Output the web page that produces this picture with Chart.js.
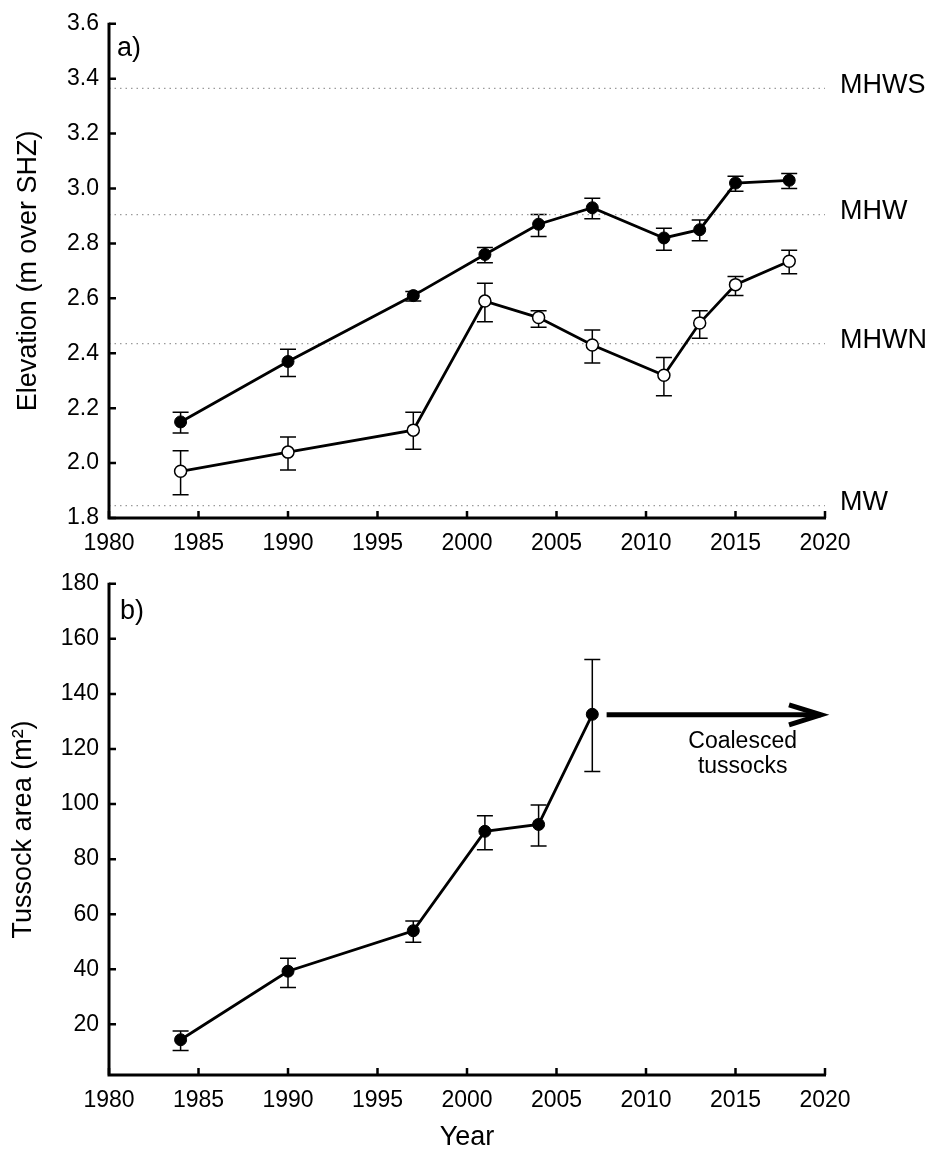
<!DOCTYPE html>
<html><head><meta charset="utf-8">
<script src="https://cdn.jsdelivr.net/npm/chart.js@4.4.1/dist/chart.umd.min.js"></script>
<style>
html,body{margin:0;padding:0;background:#fff;}
#wrap{position:relative;width:933px;height:1151px;overflow:hidden;}
.box{position:absolute;left:0;width:933px;}
</style></head><body>
<div id="wrap">
<div class="box" style="top:0;height:560px"><canvas id="c1"></canvas></div>
<div class="box" style="top:560px;height:591px"><canvas id="c2"></canvas></div>
</div>
<script>
// ---------- data ----------
const years = [1984, 1990, 1997, 2001, 2004, 2007, 2011, 2013, 2015, 2018];
const elevFilled = [2.15, 2.37, 2.61, 2.76, 2.87, 2.93, 2.82, 2.85, 3.02, 3.03];
const elevFilledHi = [2.185, 2.415, 2.625, 2.785, 2.905, 2.965, 2.855, 2.885, 3.045, 3.055];
const elevFilledLo = [2.11, 2.315, 2.59, 2.73, 2.825, 2.89, 2.775, 2.81, 2.99, 3.0];
const elevOpen = [1.97, 2.04, 2.12, 2.59, 2.53, 2.43, 2.32, 2.51, 2.65, 2.735];
const elevOpenHi = [2.045, 2.095, 2.185, 2.655, 2.555, 2.485, 2.385, 2.555, 2.68, 2.775];
const elevOpenLo = [1.885, 1.975, 2.05, 2.515, 2.495, 2.365, 2.245, 2.455, 2.61, 2.69];

const tideLevels = [3.365, 2.905, 2.435, 1.845];
const tideNames = ['MHWS', 'MHW', 'MHWN', 'MW'];

const areaYears = [1984, 1990, 1997, 2001, 2004, 2007];
const areaMean = [14.4, 39.3, 54.0, 90.1, 92.6, 132.6];
const areaHi = [17.6, 44.0, 57.5, 95.8, 99.7, 152.5];
const areaLo = [10.5, 33.4, 49.8, 83.4, 84.8, 111.8];

const arrowYears = [2007.8, 2020];
const arrowLevel = 132.4;
const noteLines = ['Coalesced', 'tussocks'];
const noteYear = 2015.4;
const noteLevels = [122.8, 113.6];

const xTicks = [1980, 1985, 1990, 1995, 2000, 2005, 2010, 2015, 2020];
const elevTicks = [1.8, 2.0, 2.2, 2.4, 2.6, 2.8, 3.0, 3.2, 3.4, 3.6];
const areaTicks = [20, 40, 60, 80, 100, 120, 140, 160, 180];

// ---------- helpers ----------
const FONT = "'Liberation Sans', Arial, sans-serif";
const pts = (xs, ys) => xs.map((x, i) => ({x: x, y: ys[i]}));

function axesPlugin(panelLabel, dx, dy) {
  return {
    id: 'axesDeco' + panelLabel,
    afterDraw(chart) {
      const ctx = chart.ctx, ca = chart.chartArea;
      const xs = chart.scales.x, ys = chart.scales.y;
      ctx.save();
      ctx.strokeStyle = '#000';
      ctx.lineCap = 'butt';
      // axis lines
      ctx.lineWidth = 3;
      ctx.beginPath();
      ctx.moveTo(ca.left, ca.top - 1);
      ctx.lineTo(ca.left, ca.bottom + 1.5);
      ctx.moveTo(ca.left - 1.5, ca.bottom);
      ctx.lineTo(ca.right + 1, ca.bottom);
      ctx.stroke();
      // inward ticks
      ctx.lineWidth = 2.5;
      ctx.beginPath();
      xs.ticks.forEach(t => {
        const px = xs.getPixelForValue(t.value);
        ctx.moveTo(px, ca.bottom);
        ctx.lineTo(px, ca.bottom - 7);
      });
      ys.ticks.forEach(t => {
        const py = ys.getPixelForValue(t.value);
        ctx.moveTo(ca.left, py);
        ctx.lineTo(ca.left + 7, py);
      });
      ctx.stroke();
      // panel label
      ctx.fillStyle = '#000';
      ctx.font = '27px ' + FONT;
      ctx.textAlign = 'left';
      ctx.textBaseline = 'alphabetic';
      ctx.fillText(panelLabel, ca.left + dx, ca.top + dy);
      ctx.restore();
    }
  };
}

function errPlugin(id, sets) {
  return {
    id: id,
    beforeDatasetsDraw(chart) {
      const ctx = chart.ctx, xs = chart.scales.x, ys = chart.scales.y;
      ctx.save();
      ctx.strokeStyle = '#000';
      ctx.lineWidth = 1.5;
      ctx.beginPath();
      sets.forEach(s => {
        s.x.forEach((xv, i) => {
          const px = xs.getPixelForValue(xv);
          const ph = ys.getPixelForValue(s.hi[i]);
          const pl = ys.getPixelForValue(s.lo[i]);
          ctx.moveTo(px, ph); ctx.lineTo(px, pl);
          ctx.moveTo(px - 8, ph); ctx.lineTo(px + 8, ph);
          ctx.moveTo(px - 8, pl); ctx.lineTo(px + 8, pl);
        });
      });
      ctx.stroke();
      ctx.restore();
    }
  };
}

const tideLabelPlugin = {
  id: 'tideLabels',
  afterDraw(chart) {
    const ctx = chart.ctx, ca = chart.chartArea, ys = chart.scales.y;
    ctx.save();
    ctx.fillStyle = '#000';
    ctx.font = '27px ' + FONT;
    ctx.textAlign = 'left';
    ctx.textBaseline = 'middle';
    tideLevels.forEach((lv, i) => {
      ctx.fillText(tideNames[i], ca.right + 15, ys.getPixelForValue(lv) - 3);
    });
    ctx.restore();
  }
};

const arrowPlugin = {
  id: 'arrowNote',
  afterDraw(chart) {
    const ctx = chart.ctx, xs = chart.scales.x, ys = chart.scales.y;
    const x0 = xs.getPixelForValue(arrowYears[0]);
    const x1 = xs.getPixelForValue(arrowYears[1]);
    const y = ys.getPixelForValue(arrowLevel);
    ctx.save();
    ctx.strokeStyle = '#000';
    ctx.lineWidth = 5;
    ctx.lineCap = 'butt';
    ctx.lineJoin = 'miter';
    ctx.beginPath();
    ctx.moveTo(x0, y); ctx.lineTo(x1 - 4, y);
    ctx.stroke();
    ctx.beginPath();
    ctx.moveTo(x1 - 36, y - 10);
    ctx.lineTo(x1 - 4, y);
    ctx.lineTo(x1 - 36, y + 10);
    ctx.stroke();
    ctx.fillStyle = '#000';
    ctx.font = '23px ' + FONT;
    ctx.textAlign = 'center';
    ctx.textBaseline = 'middle';
    noteLines.forEach((t, i) => {
      ctx.fillText(t, xs.getPixelForValue(noteYear), ys.getPixelForValue(noteLevels[i]));
    });
    ctx.restore();
  }
};

function xScale(pad, title) {
  const s = {
    type: 'linear', min: xTicks[0], max: xTicks[xTicks.length - 1],
    grid: {display: false, drawTicks: false},
    border: {display: false},
    afterBuildTicks: sc => { sc.ticks = xTicks.map(v => ({value: v})); },
    ticks: {color: '#000', font: {family: FONT, size: 23}, padding: pad, maxRotation: 0, autoSkip: false,
             callback: v => String(v)},
  };
  if (title) {
    s.title = {display: true, text: title, color: '#000', font: {family: FONT, size: 27, lineHeight: 1}, padding: {top: 0, bottom: 0}};
  }
  return s;
}

Chart.defaults.animation = false;

// ---------- top chart ----------
const tideSets = tideLevels.map(lv => ({
  data: pts([xTicks[0], xTicks[xTicks.length - 1]], [lv, lv]),
  borderColor: '#9a9a9a', borderWidth: 1.3, borderDash: [1.5, 4],
  pointRadius: 0, order: 10, fill: false
}));

new Chart(document.getElementById('c1'), {
  type: 'line',
  data: {
    datasets: [
      {data: pts(years, elevFilled), borderColor: '#000', borderWidth: 2.8,
       pointRadius: 6, pointBackgroundColor: '#000', pointBorderColor: '#000', pointBorderWidth: 1, order: 1},
      {data: pts(years, elevOpen), borderColor: '#000', borderWidth: 2.8,
       pointRadius: 6, pointBackgroundColor: '#fff', pointBorderColor: '#000', pointBorderWidth: 1.5, order: 2},
      ...tideSets
    ]
  },
  options: {
    responsive: true, maintainAspectRatio: false, animation: false,
    layout: {padding: {left: 0, right: 108, top: 16, bottom: 0}},
    plugins: {legend: {display: false}, tooltip: {enabled: false}},
    elements: {line: {tension: 0}},
    scales: {
      x: Object.assign(xScale(12), {afterFit: sc => { sc.height = 42; }}),
      y: {
        type: 'linear', min: elevTicks[0], max: elevTicks[elevTicks.length - 1],
        grid: {display: false, drawTicks: false}, border: {display: false},
        afterBuildTicks: sc => { sc.ticks = elevTicks.map(v => ({value: v})); },
        ticks: {color: '#000', font: {family: FONT, size: 23}, padding: 10, autoSkip: false,
                callback: v => Number(v).toFixed(1)},
        title: {display: true, text: 'Elevation (m over SHZ)', color: '#000', font: {family: FONT, size: 27, lineHeight: 1.2}, padding: {top: 12, bottom: 0}},
        afterFit: sc => { sc.width = 109; }
      }
    }
  },
  plugins: [errPlugin('errTop', [{x: years, hi: elevFilledHi, lo: elevFilledLo}, {x: years, hi: elevOpenHi, lo: elevOpenLo}]),
            tideLabelPlugin, axesPlugin('a)', 8, 32)]
});

// ---------- bottom chart ----------
new Chart(document.getElementById('c2'), {
  type: 'line',
  data: {
    datasets: [
      {data: pts(areaYears, areaMean), borderColor: '#000', borderWidth: 2.8,
       pointRadius: 6, pointBackgroundColor: '#000', pointBorderColor: '#000', pointBorderWidth: 1}
    ]
  },
  options: {
    responsive: true, maintainAspectRatio: false, animation: false,
    layout: {padding: {left: 0, right: 108, top: 13, bottom: 0}},
    plugins: {legend: {display: false}, tooltip: {enabled: false}},
    scales: {
      x: Object.assign(xScale(12, 'Year'), {afterFit: sc => { sc.height = 76; }}),
      y: {
        type: 'linear', min: 1.6, max: areaTicks[areaTicks.length - 1],
        grid: {display: false, drawTicks: false}, border: {display: false},
        afterBuildTicks: sc => { sc.ticks = areaTicks.map(v => ({value: v})); },
        ticks: {color: '#000', font: {family: FONT, size: 23}, padding: 10, autoSkip: false,
                callback: v => String(v)},
        title: {display: true, text: 'Tussock area (m²)', color: '#000', font: {family: FONT, size: 27, lineHeight: 1.2}, padding: {top: 7, bottom: 0}},
        afterFit: sc => { sc.width = 109; }
      }
    }
  },
  plugins: [errPlugin('errBot', [{x: areaYears, hi: areaHi, lo: areaLo}]), arrowPlugin, axesPlugin('b)', 11, 35)]
});
</script>
</body></html>
